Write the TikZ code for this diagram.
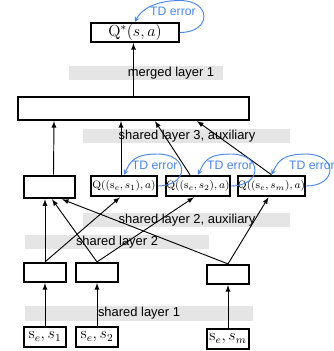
\documentclass[tikz,border=0pt]{standalone}
\usepackage[no-math]{fontspec}
\setmainfont{Liberation Sans}
\usepackage{amsmath}
\usetikzlibrary{arrows,calc}
\definecolor{tdblue}{RGB}{74,134,232}
\begin{document}
\begin{tikzpicture}[x=0.75pt,y=-0.75pt,>=stealth,
  blk/.style={draw, line width=1.4pt, inner sep=0pt},
  band/.style={fill=gray!20},
  lbl/.style={font=\fontsize{9.7}{11}\selectfont, inner sep=0pt},
  arr/.style={-latex, line width=0.7pt},
  td/.style={->, tdblue, line width=0.7pt},
  tdlbl/.style={font=\fontsize{9.2}{11}\selectfont, text=tdblue, inner sep=0pt}]
	\useasboundingbox (0,0) rectangle (334,351);

	% grey bands behind the layer names
	\foreach \xa/\ya/\xb/\yb in {69/66/223/80, 83/129/290/143, 83/213/290/227, 25/235/209/249, 25/306/253/321}
		\fill[band] (\xa,\ya) rectangle (\xb,\yb);
	\foreach \x/\y/\t in {171/73/{merged layer 1}, 187/136/{shared layer 3, auxiliary}, 187/220/{shared layer 2, auxiliary}, 117/242/{shared layer 2}, 139/313/{shared layer 1}}
		\node[lbl] at (\x,\y) {\t};

	% boxes
	\node (qstar) at (135,32.5) [blk, minimum width=66pt, minimum height=14.5pt, font=\fontsize{12}{14}\selectfont] {$\mathrm{Q}^{*}(s,a)$};
	\node (merged) at (133.5,108.5) [blk, minimum width=173pt, minimum height=17.5pt] {};

	\node (lbox) at (49.5,187) [blk, minimum width=38.5pt, minimum height=17pt] {};
	\node (q1) at (124,186) [blk, minimum width=49pt, minimum height=15.5pt, font=\fontsize{7.9}{9}\selectfont] {$\mathrm{Q}((\mathrm{s}_{e},s_{1}),a)$};
	\node (q2) at (198,186) [blk, minimum width=48pt, minimum height=15.5pt, font=\fontsize{7.9}{9}\selectfont] {$\mathrm{Q}((\mathrm{s}_{e},s_{2}),a)$};
	\node (qm) at (271.5,186) [blk, minimum width=49pt, minimum height=15.5pt, font=\fontsize{7.9}{9}\selectfont] {$\mathrm{Q}((\mathrm{s}_{e},s_{m}),a)$};

	\node (h1) at (45,272.5) [blk, minimum width=32pt, minimum height=14.5pt] {};
	\node (h2) at (97,272.5) [blk, minimum width=32pt, minimum height=14.5pt] {};
	\node (hm) at (228,274.5) [blk, minimum width=32pt, minimum height=14.5pt] {};

	\node (in1) at (45,337) [blk, minimum width=32pt, minimum height=15.5pt, font=\fontsize{12}{14}\selectfont] {$\mathrm{s}_{e},s_{1}$};
	\node (in2) at (97,337) [blk, minimum width=32pt, minimum height=15.5pt, font=\fontsize{12}{14}\selectfont] {$\mathrm{s}_{e},s_{2}$};
	\node (inm) at (228,339) [blk, minimum width=32pt, minimum height=15.5pt, font=\fontsize{12}{14}\selectfont] {$\mathrm{s}_{e},s_{m}$};

	% connections
	\draw[arr] (in1.north) -- (h1.south);
	\draw[arr] (in2.north) -- (h2.south);
	\draw[arr] (inm.north) -- (hm.south);

	\draw[arr] (h1.north) -- (h1.north |- lbox.south);
	\draw[arr] (h1.north) -- ($(q1.south)+(-4,0)$);
	\draw[arr] (h2.north) -- ($(lbox.south)+(2.5,0)$);
	\draw[arr] (h2.north) -- ($(q2.south)+(-4,0)$);
	\draw[arr] (hm.north) -- ($(lbox.south)+(12.5,0)$);
	\draw[arr] (hm.north) -- ($(qm.south)+(-3,0)$);

	\draw[arr] ($(lbox.north)+(4,0)$) -- ($(merged.south)+(-79.5,0)$);
	\draw[arr] ($(q1.north)+(-3,0)$) -- ($(merged.south)+(-12.5,0)$);
	\draw[arr] ($(q2.north)+(-8,0)$) -- ($(merged.south)+(21.5,0)$);
	\draw[arr] (qm.north) -- ($(merged.south)+(63.5,0)$);

	\draw[arr] (merged.north) -- (merged.north |- qstar.south);

	% TD error loops
	\foreach \n/\dx in {qstar/-7, q1/-3, q2/-1, qm/6} {
		\draw[td] (\n.east) .. controls +(32,0) and +(32,0) .. ++(0,-32) .. controls +(-25,0) and +(6,-12) .. (\n.north);
		\node[tdlbl] at ($(\n.east)+(\dx,-21)$) {TD error};
	}
\end{tikzpicture}
\end{document}
